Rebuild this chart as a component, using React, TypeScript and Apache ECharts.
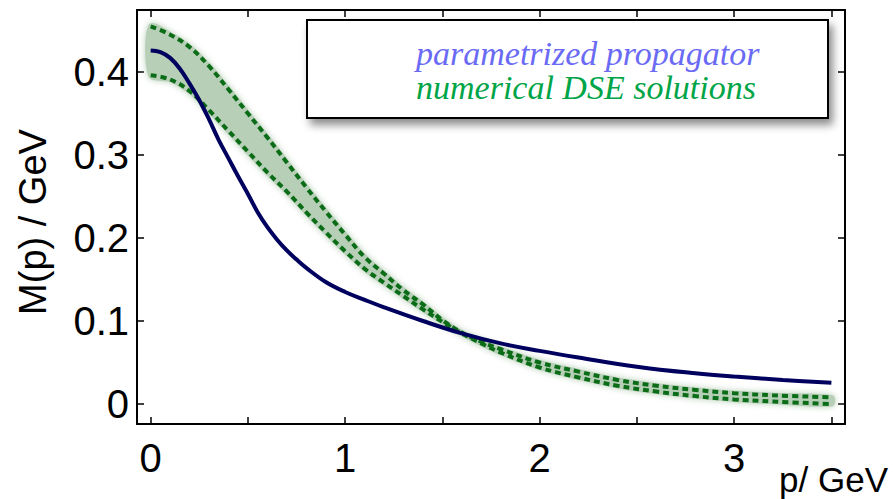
import React, { useEffect, useRef } from "react";
import * as echarts from "echarts";

// ---- data ----
const pGreen = [0, 0.1, 0.2, 0.3, 0.4, 0.5, 0.6, 0.7, 0.8, 0.9, 1.0, 1.1, 1.2, 1.3, 1.4, 1.5, 1.6, 1.7, 1.8, 2.0, 2.2, 2.4, 2.6, 2.8, 3.0, 3.2, 3.5];
const mUpper = [0.455, 0.445, 0.43, 0.407, 0.379, 0.35, 0.321, 0.291, 0.261, 0.232, 0.204, 0.177, 0.157, 0.137, 0.12, 0.101, 0.086, 0.075, 0.066, 0.05, 0.039, 0.029, 0.022, 0.017, 0.013, 0.0105, 0.008];
const mLower = [0.396, 0.391, 0.377, 0.354, 0.329, 0.304, 0.279, 0.256, 0.231, 0.207, 0.184, 0.163, 0.146, 0.13, 0.114, 0.099, 0.085, 0.073, 0.062, 0.044, 0.032, 0.022, 0.015, 0.0095, 0.0055, 0.003, 0.0];

const pBlue = [0, 0.05, 0.1, 0.15, 0.2, 0.25, 0.3, 0.35, 0.4, 0.45, 0.5, 0.55, 0.6, 0.65, 0.7, 0.75, 0.8, 0.9, 1.0, 1.1, 1.2, 1.4, 1.6, 1.8, 2.0, 2.2, 2.5, 2.8, 3.0, 3.25, 3.5];
const mBlue = [0.426, 0.424, 0.417, 0.404, 0.386, 0.366, 0.343, 0.318, 0.296, 0.274, 0.253, 0.231, 0.213, 0.198, 0.185, 0.174, 0.164, 0.147, 0.135, 0.1255, 0.1165, 0.1, 0.085, 0.073, 0.064, 0.056, 0.045, 0.037, 0.033, 0.029, 0.0255];

const xTicks = [0, 0.5, 1, 1.5, 2, 2.5, 3, 3.5];
const xLabels = [0, 1, 2, 3];
const yTicks = [0, 0.1, 0.2, 0.3, 0.4];

const legendItems = ["parametrized propagator", "numerical DSE solutions"];
const yTitle = "M(p) / GeV";
const xTitle = "p/ GeV";

const upperPts = pGreen.map((p, i) => [p, mUpper[i]]);
const lowerPts = pGreen.map((p, i) => [p, mLower[i]]);
const bluePts = pBlue.map((p, i) => [p, mBlue[i]]);

const LABEL_FONT = "'Liberation Sans', Arial, sans-serif";
const GREEN_LINE = "#0a6c16";
const BAND = "#b7cfb7";

export default function App() {
  const ref = useRef<HTMLDivElement>(null);
  useEffect(() => {
    if (!ref.current) return;
    const chart = echarts.init(ref.current, null, { renderer: "svg" });
    const axisLine = { show: true, onZero: false, lineStyle: { color: "#000", width: 2 } };
    const tickStyle = { color: "#000", width: 1.5 };
    const option: any = {
      animation: false,
      backgroundColor: "#fff",
      grid: { left: 137, right: 48, top: 10, bottom: 75, containLabel: false, outerBoundsMode: "none" },
      xAxis: [
        {
          type: "value", min: -0.0704, max: 3.57, position: "bottom",
          axisLine,
          splitLine: { show: false },
          axisTick: { show: true, inside: true, length: 7, customValues: xTicks, lineStyle: tickStyle },
          axisLabel: { show: true, customValues: xLabels, margin: 14, fontSize: 40, color: "#000", fontFamily: LABEL_FONT, formatter: (v: number) => String(Math.round(v)) },
        },
        {
          type: "value", min: -0.0704, max: 3.57, position: "top",
          axisLine,
          splitLine: { show: false },
          axisTick: { show: true, inside: true, length: 7, customValues: xTicks, lineStyle: tickStyle },
          axisLabel: { show: false },
        },
      ],
      yAxis: [
        {
          type: "value", min: -0.0241, max: 0.4747, position: "left",
          axisLine,
          splitLine: { show: false },
          axisTick: { show: true, inside: true, length: 7, customValues: yTicks, lineStyle: tickStyle },
          axisLabel: { show: true, customValues: yTicks, margin: 8, fontSize: 40, color: "#000", fontFamily: LABEL_FONT, formatter: (v: number) => (Math.abs(v) < 1e-9 ? "0" : v.toFixed(1)) },
        },
        {
          type: "value", min: -0.0241, max: 0.4747, position: "right",
          axisLine,
          splitLine: { show: false },
          axisTick: { show: true, inside: true, length: 7, customValues: yTicks, lineStyle: tickStyle },
          axisLabel: { show: false },
        },
      ],
      series: [
        {
          type: "custom",
          xAxisIndex: 0,
          yAxisIndex: 0,
          data: [[0, 0]],
          z: 1,
          renderItem: (params: any, api: any) => {
            const pts = upperPts.map((d) => api.coord(d)).concat(lowerPts.slice().reverse().map((d) => api.coord(d)));
            return {
              type: "polygon",
              shape: { points: pts, smooth: 0.3 },
              style: { fill: BAND, stroke: BAND, lineWidth: 5, shadowBlur: 6, shadowColor: BAND },
            };
          },
        },
        {
          type: "line", data: upperPts, smooth: 0.4, showSymbol: false, symbol: "none", z: 3, clip: false,
          lineStyle: { color: GREEN_LINE, width: 4, type: [6, 4] },
        },
        {
          type: "line", data: lowerPts, smooth: 0.4, showSymbol: false, symbol: "none", z: 3, clip: false,
          lineStyle: { color: GREEN_LINE, width: 4, type: [6, 4] },
        },
        {
          type: "line", data: bluePts, smooth: 0.4, showSymbol: false, symbol: "none", z: 4, clip: false,
          lineStyle: { color: "#00005e", width: 4 },
        },
      ],
      graphic: [
        {
          type: "rect", z: 100,
          shape: { x: 307, y: 20, width: 521, height: 98 },
          style: { fill: "#fff", stroke: "#000", lineWidth: 2, shadowBlur: 8, shadowOffsetX: 4, shadowOffsetY: 6, shadowColor: "rgba(0,0,0,0.45)" },
        },
        {
          type: "text", z: 101, x: 416, y: 53,
          style: { text: legendItems[0], fill: "#6a6af4", font: "italic 34px 'Liberation Serif', serif", textAlign: "left", textVerticalAlign: "middle" },
        },
        {
          type: "text", z: 101, x: 416, y: 87,
          style: { text: legendItems[1], fill: "#00a548", font: "italic 34px 'Liberation Serif', serif", textAlign: "left", textVerticalAlign: "middle" },
        },
        {
          type: "text", z: 101, x: 33, y: 222, rotation: Math.PI / 2,
          style: { text: yTitle, fill: "#000", font: `38px ${LABEL_FONT}`, textAlign: "center", textVerticalAlign: "middle" },
        },
        {
          type: "text", z: 101, x: 888, y: 479,
          style: { text: xTitle, fill: "#000", font: `35px ${LABEL_FONT}`, textAlign: "right", textVerticalAlign: "middle" },
        },
      ],
    };
    chart.setOption(option);
    return () => chart.dispose();
  }, []);
  return <div ref={ref} style={{ position: "fixed", left: 0, top: 0, width: 893, height: 499 }} />;
}
